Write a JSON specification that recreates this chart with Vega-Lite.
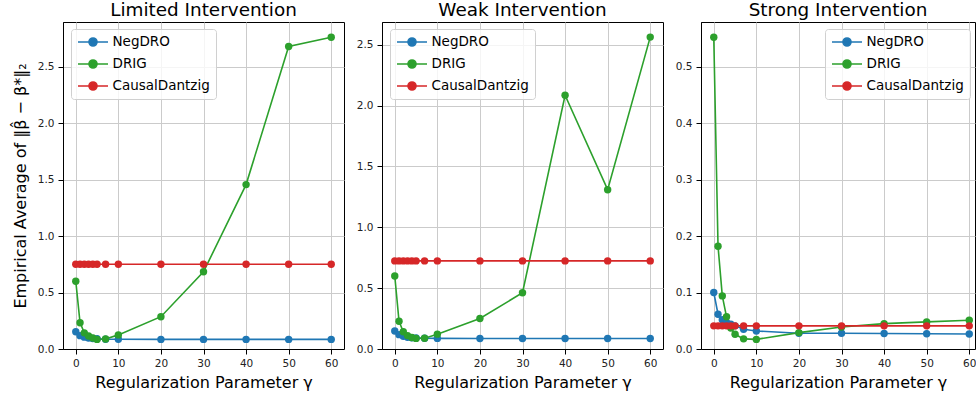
{
  "$schema": "https://vega.github.io/schema/vega-lite/v6.json",
  "padding": {"left": 11, "top": 0, "right": 0, "bottom": 0},
  "spacing": 10,
  "background": "white",
  "data": {"values": [
    {"panel":"Limited","method":"NegDRO","gamma":0,"value":0.153},
    {"panel":"Limited","method":"NegDRO","gamma":1,"value":0.118},
    {"panel":"Limited","method":"NegDRO","gamma":2,"value":0.105},
    {"panel":"Limited","method":"NegDRO","gamma":3,"value":0.098},
    {"panel":"Limited","method":"NegDRO","gamma":4,"value":0.093},
    {"panel":"Limited","method":"NegDRO","gamma":5,"value":0.09},
    {"panel":"Limited","method":"NegDRO","gamma":7,"value":0.087},
    {"panel":"Limited","method":"NegDRO","gamma":10,"value":0.086},
    {"panel":"Limited","method":"NegDRO","gamma":20,"value":0.085},
    {"panel":"Limited","method":"NegDRO","gamma":30,"value":0.085},
    {"panel":"Limited","method":"NegDRO","gamma":40,"value":0.085},
    {"panel":"Limited","method":"NegDRO","gamma":50,"value":0.085},
    {"panel":"Limited","method":"NegDRO","gamma":60,"value":0.085},
    {"panel":"Limited","method":"DRIG","gamma":0,"value":0.60},
    {"panel":"Limited","method":"DRIG","gamma":1,"value":0.233},
    {"panel":"Limited","method":"DRIG","gamma":2,"value":0.143},
    {"panel":"Limited","method":"DRIG","gamma":3,"value":0.115},
    {"panel":"Limited","method":"DRIG","gamma":4,"value":0.097},
    {"panel":"Limited","method":"DRIG","gamma":5,"value":0.085},
    {"panel":"Limited","method":"DRIG","gamma":7,"value":0.088},
    {"panel":"Limited","method":"DRIG","gamma":10,"value":0.125},
    {"panel":"Limited","method":"DRIG","gamma":20,"value":0.286},
    {"panel":"Limited","method":"DRIG","gamma":30,"value":0.683},
    {"panel":"Limited","method":"DRIG","gamma":40,"value":1.455},
    {"panel":"Limited","method":"DRIG","gamma":50,"value":2.677},
    {"panel":"Limited","method":"DRIG","gamma":60,"value":2.759},
    {"panel":"Limited","method":"CausalDantzig","gamma":0,"value":0.75},
    {"panel":"Limited","method":"CausalDantzig","gamma":1,"value":0.75},
    {"panel":"Limited","method":"CausalDantzig","gamma":2,"value":0.75},
    {"panel":"Limited","method":"CausalDantzig","gamma":3,"value":0.75},
    {"panel":"Limited","method":"CausalDantzig","gamma":4,"value":0.75},
    {"panel":"Limited","method":"CausalDantzig","gamma":5,"value":0.75},
    {"panel":"Limited","method":"CausalDantzig","gamma":7,"value":0.75},
    {"panel":"Limited","method":"CausalDantzig","gamma":10,"value":0.75},
    {"panel":"Limited","method":"CausalDantzig","gamma":20,"value":0.75},
    {"panel":"Limited","method":"CausalDantzig","gamma":30,"value":0.75},
    {"panel":"Limited","method":"CausalDantzig","gamma":40,"value":0.75},
    {"panel":"Limited","method":"CausalDantzig","gamma":50,"value":0.75},
    {"panel":"Limited","method":"CausalDantzig","gamma":60,"value":0.75},
    {"panel":"Weak","method":"NegDRO","gamma":0,"value":0.148},
    {"panel":"Weak","method":"NegDRO","gamma":1,"value":0.118},
    {"panel":"Weak","method":"NegDRO","gamma":2,"value":0.104},
    {"panel":"Weak","method":"NegDRO","gamma":3,"value":0.097},
    {"panel":"Weak","method":"NegDRO","gamma":4,"value":0.093},
    {"panel":"Weak","method":"NegDRO","gamma":5,"value":0.09},
    {"panel":"Weak","method":"NegDRO","gamma":7,"value":0.088},
    {"panel":"Weak","method":"NegDRO","gamma":10,"value":0.087},
    {"panel":"Weak","method":"NegDRO","gamma":20,"value":0.086},
    {"panel":"Weak","method":"NegDRO","gamma":30,"value":0.086},
    {"panel":"Weak","method":"NegDRO","gamma":40,"value":0.086},
    {"panel":"Weak","method":"NegDRO","gamma":50,"value":0.086},
    {"panel":"Weak","method":"NegDRO","gamma":60,"value":0.086},
    {"panel":"Weak","method":"DRIG","gamma":0,"value":0.60},
    {"panel":"Weak","method":"DRIG","gamma":1,"value":0.228},
    {"panel":"Weak","method":"DRIG","gamma":2,"value":0.142},
    {"panel":"Weak","method":"DRIG","gamma":3,"value":0.11},
    {"panel":"Weak","method":"DRIG","gamma":4,"value":0.095},
    {"panel":"Weak","method":"DRIG","gamma":5,"value":0.087},
    {"panel":"Weak","method":"DRIG","gamma":7,"value":0.089},
    {"panel":"Weak","method":"DRIG","gamma":10,"value":0.122},
    {"panel":"Weak","method":"DRIG","gamma":20,"value":0.251},
    {"panel":"Weak","method":"DRIG","gamma":30,"value":0.462},
    {"panel":"Weak","method":"DRIG","gamma":40,"value":2.085},
    {"panel":"Weak","method":"DRIG","gamma":50,"value":1.309},
    {"panel":"Weak","method":"DRIG","gamma":60,"value":2.563},
    {"panel":"Weak","method":"CausalDantzig","gamma":0,"value":0.724},
    {"panel":"Weak","method":"CausalDantzig","gamma":1,"value":0.724},
    {"panel":"Weak","method":"CausalDantzig","gamma":2,"value":0.724},
    {"panel":"Weak","method":"CausalDantzig","gamma":3,"value":0.724},
    {"panel":"Weak","method":"CausalDantzig","gamma":4,"value":0.724},
    {"panel":"Weak","method":"CausalDantzig","gamma":5,"value":0.724},
    {"panel":"Weak","method":"CausalDantzig","gamma":7,"value":0.724},
    {"panel":"Weak","method":"CausalDantzig","gamma":10,"value":0.724},
    {"panel":"Weak","method":"CausalDantzig","gamma":20,"value":0.724},
    {"panel":"Weak","method":"CausalDantzig","gamma":30,"value":0.724},
    {"panel":"Weak","method":"CausalDantzig","gamma":40,"value":0.724},
    {"panel":"Weak","method":"CausalDantzig","gamma":50,"value":0.724},
    {"panel":"Weak","method":"CausalDantzig","gamma":60,"value":0.724},
    {"panel":"Strong","method":"NegDRO","gamma":0,"value":0.100},
    {"panel":"Strong","method":"NegDRO","gamma":1,"value":0.0615},
    {"panel":"Strong","method":"NegDRO","gamma":2,"value":0.052},
    {"panel":"Strong","method":"NegDRO","gamma":3,"value":0.047},
    {"panel":"Strong","method":"NegDRO","gamma":4,"value":0.044},
    {"panel":"Strong","method":"NegDRO","gamma":5,"value":0.041},
    {"panel":"Strong","method":"NegDRO","gamma":7,"value":0.035},
    {"panel":"Strong","method":"NegDRO","gamma":10,"value":0.032},
    {"panel":"Strong","method":"NegDRO","gamma":20,"value":0.028},
    {"panel":"Strong","method":"NegDRO","gamma":30,"value":0.028},
    {"panel":"Strong","method":"NegDRO","gamma":40,"value":0.0275},
    {"panel":"Strong","method":"NegDRO","gamma":50,"value":0.027},
    {"panel":"Strong","method":"NegDRO","gamma":60,"value":0.0265},
    {"panel":"Strong","method":"DRIG","gamma":0,"value":0.552},
    {"panel":"Strong","method":"DRIG","gamma":1,"value":0.182},
    {"panel":"Strong","method":"DRIG","gamma":2,"value":0.094},
    {"panel":"Strong","method":"DRIG","gamma":3,"value":0.057},
    {"panel":"Strong","method":"DRIG","gamma":4,"value":0.037},
    {"panel":"Strong","method":"DRIG","gamma":5,"value":0.026},
    {"panel":"Strong","method":"DRIG","gamma":7,"value":0.018},
    {"panel":"Strong","method":"DRIG","gamma":10,"value":0.017},
    {"panel":"Strong","method":"DRIG","gamma":20,"value":0.029},
    {"panel":"Strong","method":"DRIG","gamma":30,"value":0.039},
    {"panel":"Strong","method":"DRIG","gamma":40,"value":0.045},
    {"panel":"Strong","method":"DRIG","gamma":50,"value":0.048},
    {"panel":"Strong","method":"DRIG","gamma":60,"value":0.051},
    {"panel":"Strong","method":"CausalDantzig","gamma":0,"value":0.041},
    {"panel":"Strong","method":"CausalDantzig","gamma":1,"value":0.041},
    {"panel":"Strong","method":"CausalDantzig","gamma":2,"value":0.041},
    {"panel":"Strong","method":"CausalDantzig","gamma":3,"value":0.041},
    {"panel":"Strong","method":"CausalDantzig","gamma":4,"value":0.041},
    {"panel":"Strong","method":"CausalDantzig","gamma":5,"value":0.041},
    {"panel":"Strong","method":"CausalDantzig","gamma":7,"value":0.041},
    {"panel":"Strong","method":"CausalDantzig","gamma":10,"value":0.041},
    {"panel":"Strong","method":"CausalDantzig","gamma":20,"value":0.041},
    {"panel":"Strong","method":"CausalDantzig","gamma":30,"value":0.041},
    {"panel":"Strong","method":"CausalDantzig","gamma":40,"value":0.041},
    {"panel":"Strong","method":"CausalDantzig","gamma":50,"value":0.041},
    {"panel":"Strong","method":"CausalDantzig","gamma":60,"value":0.041}
  ]},
  "resolve": {"scale": {"color": "independent", "y": "independent", "x": "independent"}, "legend": {"color": "independent"}},
  "config": {
    "font": "DejaVu Sans",
    "view": {"stroke": "#000", "strokeWidth": 1},
    "title": {"font": "DejaVu Sans", "fontSize": 18.4, "fontWeight": "normal", "color": "#000", "anchor": "middle", "offset": 2.5, "baseline": "alphabetic"},
    "axis": {
      "domainColor": "#000", "tickColor": "#000", "labelColor": "#222", "titleColor": "#000",
      "labelFont": "DejaVu Sans", "titleFont": "DejaVu Sans", "labelFontSize": 10.5,
      "titleFontSize": 16, "titleFontWeight": "normal", "tickSize": 5, "labelPadding": 4,
      "gridColor": "#cbcbcb", "gridWidth": 1
    },
    "legend": {
      "labelFont": "DejaVu Sans", "labelFontSize": 13.5, "labelColor": "#000",
      "strokeColor": "#d0d0d0", "fillColor": "rgba(255,255,255,0.8)", "cornerRadius": 3,
      "padding": 6, "labelOffset": 3.5, "rowPadding": 8, "clipHeight": 14,
      "symbolSize": 900, "symbolStrokeWidth": 1.5,
      "symbolType": "M -1 0 L 1 0 M -0.27 0 A 0.27 0.27 0 1 1 0.27 0 A 0.27 0.27 0 1 1 -0.27 0 Z"
    }
  },
  "hconcat": [
    {
      "width": 281, "height": 327,
      "title": "Limited Intervention",
      "transform": [{"filter": "datum.panel === 'Limited'"}],
      "encoding": {
        "x": {"field": "gamma", "type": "quantitative", "scale": {"domain": [-3, 63], "nice": false, "zero": false},
              "axis": {"title": "Regularization Parameter γ", "values": [0, 10, 20, 30, 40, 50, 60], "titlePadding": 6}},
        "y": {"field": "value", "type": "quantitative", "scale": {"domain": [0, 2.894], "nice": false},
              "axis": {"title": "Empirical Average of ‖β̂ − β*‖₂", "values": [0, 0.5, 1, 1.5, 2, 2.5], "format": ".1f", "minExtent": 26, "maxExtent": 26, "titlePadding": 9}},
        "color": {"field": "method", "type": "nominal",
                  "scale": {"domain": ["NegDRO", "DRIG", "CausalDantzig"], "range": ["#1f77b4", "#2ca02c", "#d62728"]},
                  "legend": {"title": null, "orient": "none", "legendX": 8, "legendY": 7,
                             "encode": {"symbols": {"update": {"stroke": {"scale": "concat_0_color", "field": "value"}, "fill": {"scale": "concat_0_color", "field": "value"}, "strokeWidth": {"value": 1.5}, "opacity": {"value": 1}}}}}}
      },
      "layer": [
        {"mark": {"type": "line", "strokeWidth": 1.6}},
        {"mark": {"type": "point", "filled": true, "size": 55, "opacity": 1}}
      ]
    },
    {
      "width": 281, "height": 327,
      "title": "Weak Intervention",
      "transform": [{"filter": "datum.panel === 'Weak'"}],
      "encoding": {
        "x": {"field": "gamma", "type": "quantitative", "scale": {"domain": [-3, 63], "nice": false, "zero": false},
              "axis": {"title": "Regularization Parameter γ", "values": [0, 10, 20, 30, 40, 50, 60], "titlePadding": 6}},
        "y": {"field": "value", "type": "quantitative", "scale": {"domain": [0, 2.687], "nice": false},
              "axis": {"title": null, "values": [0, 0.5, 1, 1.5, 2, 2.5], "format": ".1f"}},
        "color": {"field": "method", "type": "nominal",
                  "scale": {"domain": ["NegDRO", "DRIG", "CausalDantzig"], "range": ["#1f77b4", "#2ca02c", "#d62728"]},
                  "legend": {"title": null, "orient": "none", "legendX": 8, "legendY": 7,
                             "encode": {"symbols": {"update": {"stroke": {"scale": "concat_1_color", "field": "value"}, "fill": {"scale": "concat_1_color", "field": "value"}, "strokeWidth": {"value": 1.5}, "opacity": {"value": 1}}}}}}
      },
      "layer": [
        {"mark": {"type": "line", "strokeWidth": 1.6}},
        {"mark": {"type": "point", "filled": true, "size": 55, "opacity": 1}}
      ]
    },
    {
      "width": 274, "height": 327,
      "title": "Strong Intervention",
      "transform": [{"filter": "datum.panel === 'Strong'"}],
      "encoding": {
        "x": {"field": "gamma", "type": "quantitative", "scale": {"domain": [-3, 61.35], "nice": false, "zero": false},
              "axis": {"title": "Regularization Parameter γ", "values": [0, 10, 20, 30, 40, 50, 60], "titlePadding": 6}},
        "y": {"field": "value", "type": "quantitative", "scale": {"domain": [0, 0.579], "nice": false},
              "axis": {"title": null, "values": [0, 0.1, 0.2, 0.3, 0.4, 0.5], "format": ".1f"}},
        "color": {"field": "method", "type": "nominal",
                  "scale": {"domain": ["NegDRO", "DRIG", "CausalDantzig"], "range": ["#1f77b4", "#2ca02c", "#d62728"]},
                  "legend": {"title": null, "orient": "none", "legendX": 124, "legendY": 7,
                             "encode": {"symbols": {"update": {"stroke": {"scale": "concat_2_color", "field": "value"}, "fill": {"scale": "concat_2_color", "field": "value"}, "strokeWidth": {"value": 1.5}, "opacity": {"value": 1}}}}}}
      },
      "layer": [
        {"mark": {"type": "line", "strokeWidth": 1.6}},
        {"mark": {"type": "point", "filled": true, "size": 55, "opacity": 1}}
      ]
    }
  ]
}
